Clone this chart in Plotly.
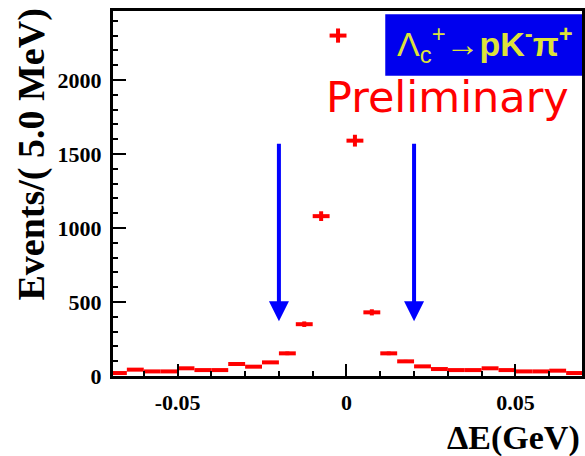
import numpy as np
import plotly.graph_objects as go

# Bin centres (GeV), 5 MeV bins
bin_centers = [-0.0675, -0.0625, -0.0575, -0.0525, -0.0475, -0.0425, -0.0375,
               -0.0325, -0.0275, -0.0225, -0.0175, -0.0125, -0.0075, -0.0025,
               0.0025, 0.0075, 0.0125, 0.0175, 0.0225, 0.0275, 0.0325, 0.0375,
               0.0425, 0.0475, 0.0525, 0.0575, 0.0625, 0.0675]
events = [20, 43, 31, 31, 52, 40, 40,
          81, 63, 92, 153, 350, 1080, 2300,
          1590, 430, 153, 99, 65, 47, 40, 40,
          52, 40, 31, 31, 36, 20]
bin_half_width = 0.0025

x_tick_vals = [-0.05, 0, 0.05]
x_tick_text = ["-0.05", "0", "0.05"]
y_tick_vals = [0, 500, 1000, 1500, 2000]
y_tick_text = ["0", "500", "1000", "1500", "2000"]

cut_positions = [-0.02, 0.02]
arrow_top = 1580
arrow_tip = 370

errors = np.sqrt(np.array(events, dtype=float))

fig = go.Figure()
fig.add_trace(go.Scatter(
    x=bin_centers, y=events, mode="markers",
    marker=dict(size=2, color="#ff0000"),
    error_x=dict(type="constant", value=bin_half_width, thickness=4, width=0, color="#ff0000"),
    error_y=dict(type="data", array=errors, thickness=4, width=0, color="#ff0000"),
    showlegend=False, hoverinfo="skip",
))

serif = "Liberation Serif"

W, H = 585, 456
# plot area in page pixels
PX0, PX1, PY0, PY1 = 113, 585, 11, 376


def px(x):
    return (x - PX0) / (PX1 - PX0)


def py(y):
    return (PY1 - y) / (PY1 - PY0)


fig.update_layout(
    width=W, height=H,
    margin=dict(l=PX0, r=W - PX1, t=PY0, b=H - PY1),
    plot_bgcolor="white", paper_bgcolor="white",
    xaxis=dict(
        range=[-0.0691, 0.0697], showgrid=False, zeroline=False,
        showline=True, linecolor="black", linewidth=3, mirror=True,
        ticks="inside", ticklen=12, tickwidth=2, tickcolor="black",
        tickvals=x_tick_vals, ticktext=x_tick_text,
        tickfont=dict(family=serif, size=22, color="black", weight="bold"),
        minor=dict(dtick=0.01, tick0=0, ticks="inside", ticklen=5, tickwidth=2, tickcolor="black"),
        ticklabelstandoff=5,
    ),
    yaxis=dict(
        range=[0, 2466], showgrid=False, zeroline=False,
        showline=True, linecolor="black", linewidth=3, mirror=True,
        ticks="inside", ticklen=13, tickwidth=2, tickcolor="black",
        tickvals=y_tick_vals, ticktext=y_tick_text,
        tickfont=dict(family=serif, size=22, color="black", weight="bold"),
        minor=dict(dtick=100, tick0=0, ticks="inside", ticklen=5, tickwidth=2, tickcolor="black"),
        ticklabelstandoff=4,
    ),
)

# Label box
fig.add_shape(type="rect", xref="paper", yref="paper",
              x0=px(387), x1=1.0, y0=py(75.7), y1=py(14.3),
              fillcolor="#0000ee", line=dict(width=0), layer="above")

fig.add_annotation(
    xref="paper", yref="paper", x=px(578), y=py(44), xanchor="right", yanchor="middle",
    text="Λ<sub>c</sub><sup>+</sup>→<b>pK<sup>-</sup>π<sup>+</sup></b>",
    showarrow=False, font=dict(family="Liberation Sans", size=34, color="#dde23a"),
)

fig.add_annotation(
    xref="paper", yref="paper", x=px(574), y=py(97), xanchor="right", yanchor="middle",
    text="Preliminary", showarrow=False,
    font=dict(family="DejaVu Sans", size=43, color="#ff0000"),
)

# Cut arrows
for xc in cut_positions:
    fig.add_annotation(
        x=xc, y=arrow_tip, ax=xc, ay=arrow_top, xref="x", yref="y", axref="x", ayref="y",
        showarrow=True, arrowhead=2, arrowsize=1.0, arrowwidth=4, arrowcolor="#0000ff",
        standoff=0, text="",
    )

# Axis titles
fig.add_annotation(
    xref="paper", yref="paper", x=px(30), y=py(155),
    xanchor="center", yanchor="middle", textangle=-90,
    text="Events/( 5.0 MeV)", showarrow=False,
    font=dict(family=serif, size=38, color="black", weight="bold"),
)
fig.add_annotation(
    xref="paper", yref="paper", x=px(585), y=py(438),
    xanchor="right", yanchor="middle",
    text="ΔE(GeV)", showarrow=False,
    font=dict(family=serif, size=34, color="black", weight="bold"),
)

# remove the default body margin so the figure fills the window exactly
fig.write_html(
    "out.html",
    config={"displayModeBar": False},
    post_script="document.body.style.margin='0';document.body.style.overflow='hidden';",
)
